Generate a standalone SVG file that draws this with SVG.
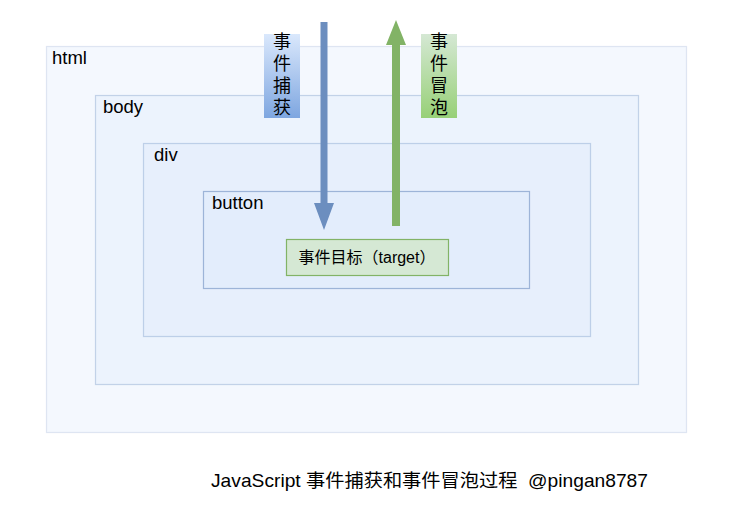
<svg xmlns="http://www.w3.org/2000/svg" width="732" height="506" viewBox="0 0 732 506">
<style>
.box{fill:#dae8fc;fill-opacity:0.3;stroke:#6c8ebf;stroke-opacity:0.35;stroke-width:1.2}
.lbl{font-family:"Helvetica","Liberation Sans","Noto Sans CJK SC",sans-serif;font-size:18.5px;fill:#000}
.vt{font-family:"Noto Sans CJK SC","Liberation Sans",sans-serif;font-size:18px;fill:#000;writing-mode:vertical-rl;letter-spacing:4px}
</style>
<defs>
<linearGradient id="gb" x1="0" y1="0" x2="0" y2="1"><stop offset="0" stop-color="#dae8fc"/><stop offset="1" stop-color="#7ea6e0"/></linearGradient>
<linearGradient id="gg" x1="0" y1="0" x2="0" y2="1"><stop offset="0" stop-color="#d5e8d4"/><stop offset="1" stop-color="#97d077"/></linearGradient>
</defs>
<rect width="732" height="506" fill="#fff"/>
<g id="html"><rect class="box" x="46.5" y="46.5" width="640" height="386" style="stroke-opacity:0.2"/><text class="lbl" x="52" y="64">html</text></g>
<g id="body"><rect class="box" x="95.5" y="95.5" width="543" height="289"/><text class="lbl" x="103" y="113">body</text></g>
<g id="div"><rect class="box" x="143.5" y="143.5" width="447" height="193"/><text class="lbl" x="154" y="161">div</text></g>
<g id="button"><rect class="box" x="203.5" y="191.5" width="326" height="97" style="stroke-opacity:0.6"/><text class="lbl" x="212" y="209">button</text></g>
<g id="target"><rect x="286.5" y="239.5" width="162" height="36" fill="#d5e8d4" stroke="#82b366" stroke-width="1.2"/><text x="367" y="263" style="font-family:'Helvetica','Liberation Sans','Noto Sans CJK SC',sans-serif;font-size:16px;text-anchor:middle">事件目标（target）</text></g>
<g id="capture-label"><rect x="264" y="34" width="36" height="84" fill="url(#gb)"/><text class="vt" x="282" y="32">事件捕获</text></g>
<g id="bubble-label"><rect x="421" y="34" width="36" height="84" fill="url(#gg)"/><text class="vt" x="439" y="32">事件冒泡</text></g>
<g id="connectors">
<polygon points="320.5,22 327.5,22 327.5,203 334,203 324,230 314,203 320.5,203" fill="#6c8ebf"/>
<polygon points="392,226 400,226 400,45 406,45 396,20 386,45 392,45" fill="#82b366"/>
</g>
<text x="211" y="487" style="font-family:'Helvetica','Liberation Sans','Noto Sans CJK SC',sans-serif;font-size:18.5px;white-space:pre" textLength="437" lengthAdjust="spacingAndGlyphs">JavaScript 事件捕获和事件冒泡过程  @pingan8787</text>
</svg>
